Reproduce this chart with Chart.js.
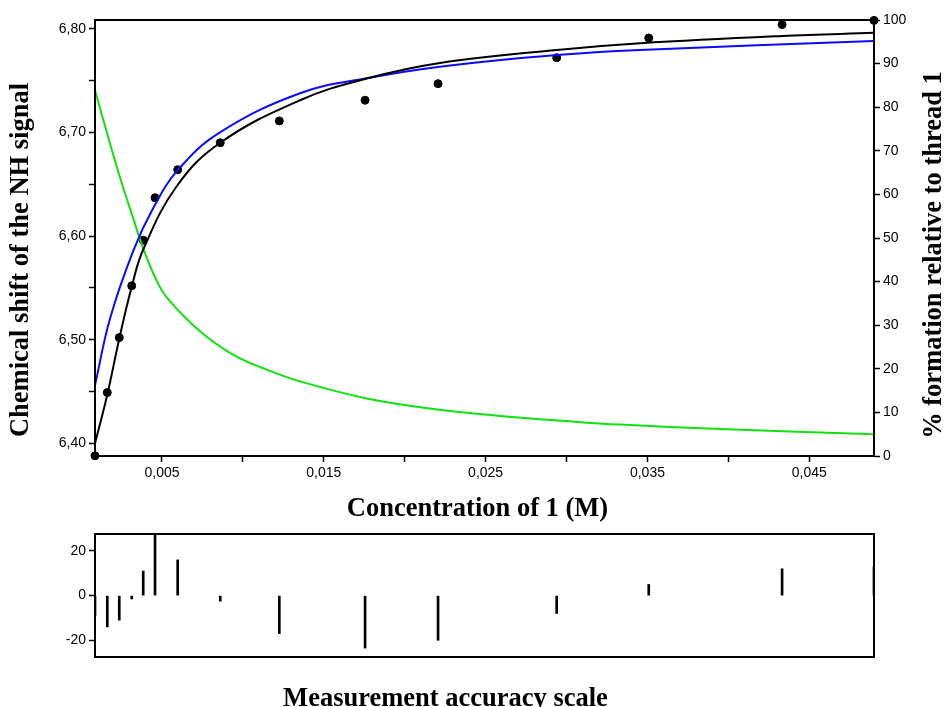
<!DOCTYPE html>
<html>
<head>
<meta charset="utf-8">
<script src="https://cdn.jsdelivr.net/npm/chart.js@4.4.1/dist/chart.umd.min.js"></script>
<style>
    html, body { margin: 0; padding: 0; background: #fff; overflow: hidden; }
    #chartPrincipal { position: absolute; left: 0; top: 0; }
    #chartResiduos { position: absolute; left: 0; top: 522px; }
</style>
</head>
<body>
<canvas id="chartPrincipal" width="946" height="527"></canvas>
<canvas id="chartResiduos" width="946" height="192"></canvas>
<script>
// --- DATOS MEDIDOS ---
const concentracion = [0.00086, 0.00162, 0.00236, 0.00313, 0.00384, 0.00457, 0.00597, 0.00860, 0.01225, 0.01755, 0.02206, 0.02939, 0.03508, 0.04332, 0.04900];
const desplazamiento = [6.388, 6.449, 6.502, 6.552, 6.596, 6.637, 6.664, 6.690, 6.711, 6.731, 6.747, 6.772, 6.791, 6.804, 6.808];
const residuos = [-9, -14, -11, -1.5, 11, 28, 16, -2.5, -17, -23.5, -20, -8, 5, 12, 13];

// --- CURVAS ---
const ajusteX = [0.00086, 0.00162, 0.00236, 0.00313, 0.00384, 0.00591, 0.00860, 0.01353, 0.01765, 0.02218, 0.02939, 0.03454, 0.04332, 0.04900];
const ajusteY = [6.400, 6.447, 6.501, 6.551, 6.587, 6.648, 6.690, 6.731, 6.752, 6.767, 6.7795, 6.786, 6.793, 6.796];

const azulX = [0.00086, 0.00179, 0.00323, 0.00446, 0.00597, 0.00858, 0.01353, 0.01765, 0.02218, 0.02939, 0.03454, 0.04900];
const azulY = [6.456, 6.5205, 6.586, 6.627, 6.6635, 6.700, 6.7377, 6.7522, 6.7634, 6.7746, 6.7795, 6.7881];

const verdeX = [0.00086, 0.00179, 0.00243, 0.00323, 0.00384, 0.00457, 0.00529, 0.00735, 0.00941, 0.01147, 0.01353, 0.01765, 0.02177, 0.02589, 0.03001, 0.03331, 0.03949, 0.04900];
const verdePct = [83.9, 71.6, 63.6, 54.4, 47.6, 41.0, 36.4, 28.6, 23.2, 19.8, 17.1, 13.2, 10.8, 9.2, 8.0, 7.2, 6.2, 5.0];

// --- TICKS ---
const xTicks = [0.005, 0.010, 0.015, 0.020, 0.025, 0.030, 0.035, 0.040, 0.045];
const xEtiquetas = ['0,005', '', '0,015', '', '0,025', '', '0,035', '', '0,045'];
const yTicks = [6.40, 6.45, 6.50, 6.55, 6.60, 6.65, 6.70, 6.75, 6.80];
const yEtiquetas = ['6,40', '', '6,50', '', '6,60', '', '6,70', '', '6,80'];
const pctTicks = [0, 10, 20, 30, 40, 50, 60, 70, 80, 90, 100];
const residTicks = [-20, 0, 20];

const puntos = (xs, ys) => xs.map((x, i) => ({ x: x, y: ys[i] }));

const fuenteTicks = { family: '"Liberation Sans", Arial, sans-serif', size: 14 };
const fuenteTitulo = 'bold 26.5px "Liberation Serif", "Times New Roman", serif';

/**
 * Dibuja el marco del área y los títulos de los ejes
 */
function pluginMarco(titulos) {
    return {
        id: 'marco',
        afterDraw(chart) {
            const { ctx, chartArea: a } = chart;
            ctx.save();
            ctx.strokeStyle = '#000';
            ctx.lineWidth = 2;
            ctx.strokeRect(a.left, a.top, a.right - a.left, a.bottom - a.top);
            ctx.fillStyle = '#000';
            ctx.font = fuenteTitulo;
            ctx.textAlign = 'center';
            ctx.textBaseline = 'alphabetic';
            titulos.forEach(t => {
                ctx.save();
                ctx.translate(t.x, t.y);
                if (t.vertical) ctx.rotate(-Math.PI / 2);
                ctx.fillText(t.texto, 0, 0);
                ctx.restore();
            });
            ctx.restore();
        }
    };
}

function ejeComun(ticks, etiquetas, extra) {
    return Object.assign({
        type: 'linear',
        afterBuildTicks: s => { s.ticks = ticks.map(v => ({ value: v })); },
        ticks: {
            color: '#000',
            font: fuenteTicks,
            autoSkip: false,
            maxRotation: 0,
            callback: (v, i) => etiquetas[i]
        },
        grid: { drawOnChartArea: false, tickLength: 6, tickColor: '#000', tickWidth: 1.5 },
        border: { color: '#000', width: 2 }
    }, extra);
}

// --- GRÁFICO PRINCIPAL ---
new Chart(document.getElementById('chartPrincipal'), {
    type: 'scatter',
    data: {
        datasets: [
            {
                data: puntos(ajusteX, ajusteY),
                showLine: true, borderColor: '#000', borderWidth: 2,
                pointRadius: 0, tension: 0.4, yAxisID: 'y'
            },
            {
                data: puntos(azulX, azulY),
                showLine: true, borderColor: '#0a0aff', borderWidth: 2,
                pointRadius: 0, tension: 0.4, yAxisID: 'y'
            },
            {
                data: puntos(verdeX, verdePct),
                showLine: true, borderColor: '#11e011', borderWidth: 2,
                pointRadius: 0, tension: 0.4, yAxisID: 'y2'
            },
            {
                data: puntos(concentracion, desplazamiento),
                showLine: false, pointRadius: 4,
                pointBackgroundColor: '#000', pointBorderColor: '#000',
                yAxisID: 'y', clip: false
            }
        ]
    },
    options: {
        responsive: false,
        animation: false,
        layout: { padding: { top: 20, left: 0, right: 0, bottom: 0 } },
        plugins: { legend: { display: false }, tooltip: { enabled: false } },
        scales: {
            x: ejeComun(xTicks, xEtiquetas, {
                position: 'bottom', min: 0.00086, max: 0.049,
                afterFit: s => { s.height = 71; }
            }),
            y: ejeComun(yTicks, yEtiquetas, {
                position: 'left', min: 6.3878, max: 6.8084,
                afterFit: s => { s.width = 95; }
            }),
            y2: ejeComun(pctTicks, pctTicks.map(String), {
                position: 'right', min: 0, max: 100,
                afterFit: s => { s.width = 72; }
            })
        }
    },
    plugins: [pluginMarco([
        { texto: 'Concentration of 1 (M)', x: 477.5, y: 515.5 },
        { texto: 'Chemical shift of the NH signal', x: 28, y: 260, vertical: true },
        { texto: '% formation relative to thread 1', x: 941, y: 255, vertical: true }
    ])]
});

// --- GRÁFICO DE RESIDUOS ---
new Chart(document.getElementById('chartResiduos'), {
    type: 'bar',
    data: {
        datasets: [{
            data: puntos(concentracion, residuos),
            backgroundColor: '#000',
            barThickness: 2
        }]
    },
    options: {
        responsive: false,
        animation: false,
        layout: { padding: { top: 12, left: 0, right: 72, bottom: 0 } },
        plugins: { legend: { display: false }, tooltip: { enabled: false } },
        scales: {
            x: {
                type: 'linear', position: 'bottom', min: 0.00086, max: 0.049,
                offset: false,
                ticks: { display: false },
                grid: { display: false, offset: false },
                border: { color: '#000', width: 2 },
                afterFit: s => { s.height = 57; }
            },
            y: ejeComun(residTicks, residTicks.map(String), {
                position: 'left', min: -27.5, max: 27.6,
                afterFit: s => { s.width = 95; }
            })
        }
    },
    plugins: [pluginMarco([
        { texto: 'Measurement accuracy scale', x: 445.5, y: 183.5 }
    ])]
});
</script>
</body>
</html>
